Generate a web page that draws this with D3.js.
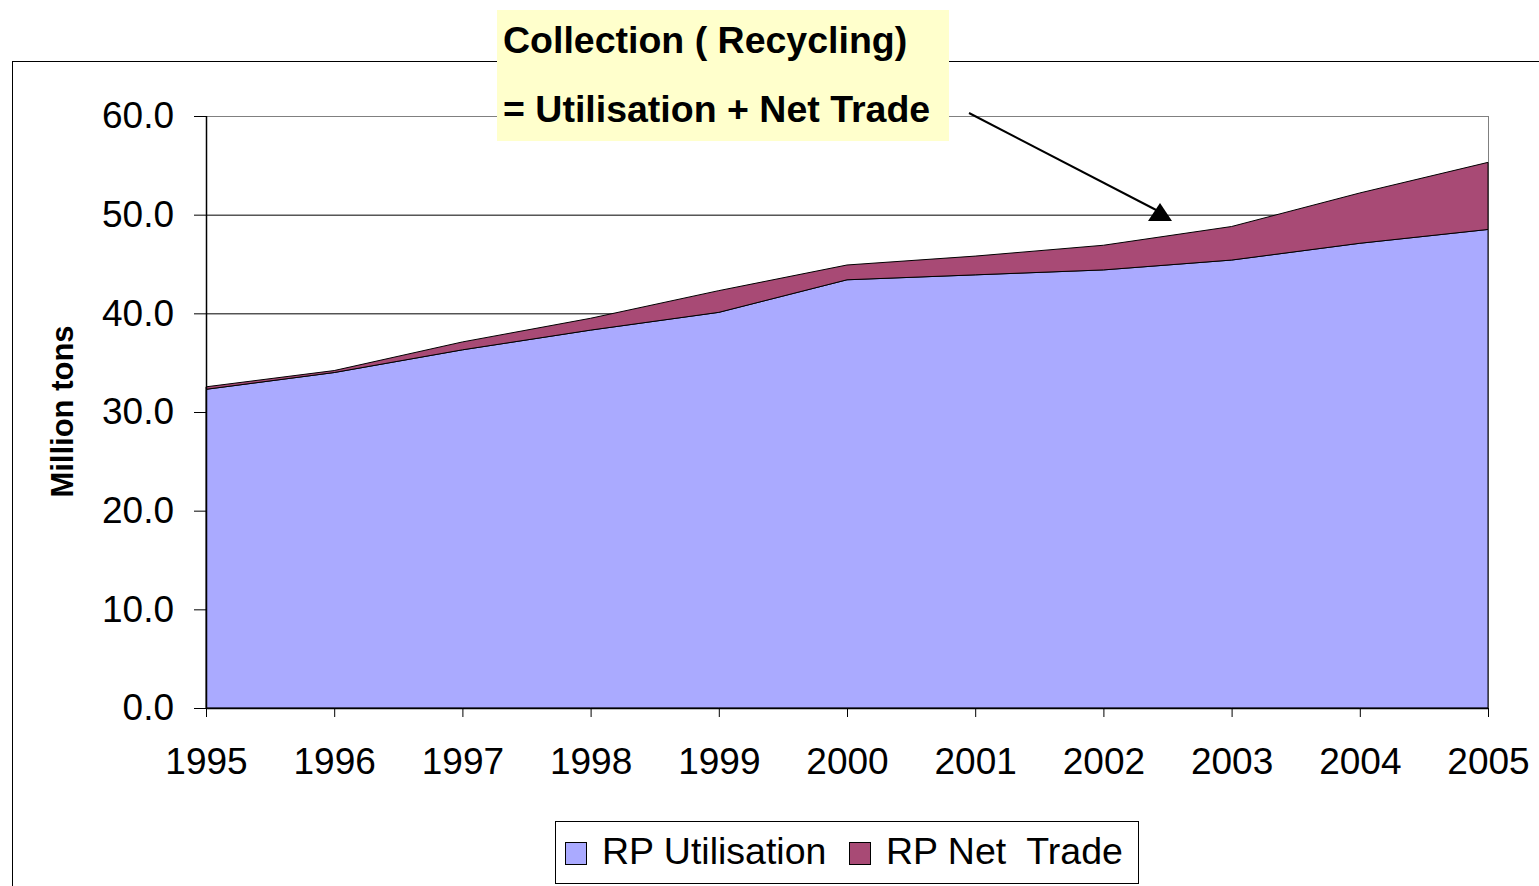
<!DOCTYPE html>
<html><head><meta charset="utf-8">
<script src="https://cdn.jsdelivr.net/npm/d3@7"></script>
<style>body{margin:0;background:#fff}svg{display:block}text{font-family:"Liberation Sans",Arial,sans-serif}</style>
</head><body>
<svg id="c" width="1539" height="886"></svg>
<script>
const years = ["1995","1996","1997","1998","1999","2000","2001","2002","2003","2004","2005"];
const utilisation = [32.3, 34.0, 36.3, 38.3, 40.1, 43.4, 43.9, 44.4, 45.4, 47.1, 48.5];
const netTrade = [0.25, 0.2, 0.8, 1.2, 2.2, 1.5, 1.9, 2.5, 3.4, 5.1, 6.8];
const yTicks = [0, 10, 20, 30, 40, 50, 60];
const seriesNames = ["RP Utilisation", "RP Net  Trade"];
const colors = ["#aaaaff", "#a84a75"];

const svg = d3.select("#c");
const L = 206, R = 1488, T = 116, B = 708;
const x = d3.scalePoint().domain(years).range([L, R]);
const y = d3.scaleLinear().domain([0, 60]).range([B, T]);

// outer chart border
svg.append("rect").attr("x", 12.5).attr("y", 61.5).attr("width", 1540).attr("height", 840)
  .attr("fill", "none").attr("stroke", "#000").attr("stroke-width", 1);

// gridlines
svg.append("g").selectAll("line").data(yTicks.filter(d => d > 0)).join("line")
  .attr("x1", L).attr("x2", R).attr("y1", d => y(d) + 0.5).attr("y2", d => y(d) + 0.5)
  .attr("stroke", d => d === 60 ? "#808080" : "#000").attr("stroke-width", 1);
svg.append("line").attr("x1", R + 0.5).attr("x2", R + 0.5).attr("y1", T).attr("y2", B)
  .attr("stroke", "#808080");

const rows = years.map((yr, i) => ({year: yr, u: utilisation[i], n: netTrade[i]}));
const stack = d3.stack().keys(["u", "n"])(rows);
const area = d3.area().x(d => x(d.data.year)).y0(d => y(d[0])).y1(d => y(d[1]));
svg.append("g").selectAll("path").data(stack).join("path")
  .attr("d", area).attr("fill", (d, i) => colors[i]).attr("stroke", "#000").attr("stroke-width", 1);

// axes
const yAxis = d3.axisLeft(y).tickValues(yTicks).tickFormat(d3.format(".1f")).tickSize(12).tickPadding(20);
const gy = svg.append("g").attr("transform", `translate(${L},0)`).call(yAxis);
const xAxis = d3.axisBottom(x).tickSize(9).tickPadding(31);
const gx = svg.append("g").attr("transform", `translate(0,${B})`).call(xAxis);
[gx, gy].forEach(g => {
  g.select(".domain").attr("stroke", "#000").attr("stroke-width", 1.5);
  g.selectAll(".tick line").attr("stroke", "#000");
  g.selectAll("text").attr("font-size", 37).attr("fill", "#000").attr("font-family", "Liberation Sans, Arial, sans-serif");
});
gx.select(".domain").attr("d", `M${L},0.5H${R}`);
gy.select(".domain").attr("d", `M0.5,${T}V${B}`);
gx.selectAll(".tick text").attr("dy", "0.71em");

// y axis title
svg.append("text").attr("transform", "translate(73,411.5) rotate(-90)")
  .attr("text-anchor", "middle").attr("font-weight", "bold").attr("font-size", 31)
  .text("Million tons");

// annotation box
svg.append("rect").attr("x", 497).attr("y", 10).attr("width", 452).attr("height", 131).attr("fill", "#ffffcc");
svg.append("text").attr("x", 503).attr("y", 53).attr("font-weight", "bold").attr("font-size", 37.5).text("Collection ( Recycling)");
svg.append("text").attr("x", 503).attr("y", 122).attr("font-weight", "bold").attr("font-size", 37.5).text("= Utilisation + Net Trade");

// arrow
svg.append("line").attr("x1", 969).attr("y1", 113).attr("x2", 1160).attr("y2", 212).attr("stroke", "#000").attr("stroke-width", 2);
svg.append("path").attr("d", "M1160,203 L1148,221 L1172,221 Z").attr("fill", "#000");

// legend
const lg = svg.append("g");
lg.append("rect").attr("x", 555.5).attr("y", 821.5).attr("width", 583).attr("height", 62)
  .attr("fill", "#fff").attr("stroke", "#000");
const legX = [565, 849];
seriesNames.forEach((name, i) => {
  lg.append("rect").attr("x", legX[i] + 0.5).attr("y", 842.5).attr("width", 21).attr("height", 22)
    .attr("fill", colors[i]).attr("stroke", "#000");
  lg.append("text").attr("x", legX[i] + 37).attr("y", 864).attr("font-size", 37.5).style("white-space", "pre").text(name);
});
</script>
</body></html>
